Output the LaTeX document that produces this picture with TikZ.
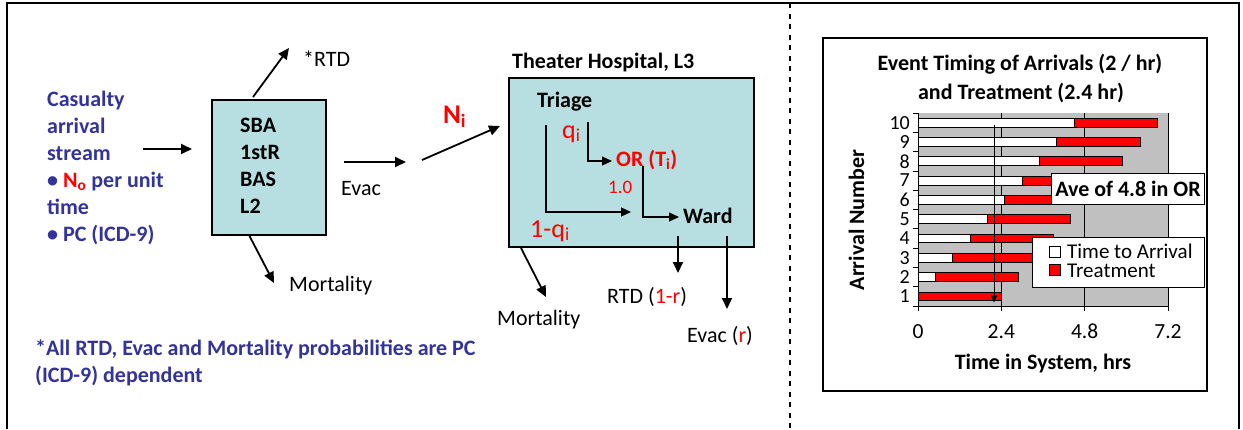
\documentclass[tikz,border=0pt]{standalone}
\usepackage{fontspec}
\setmainfont{Carlito}
\usetikzlibrary{arrows.meta}
\definecolor{navy}{RGB}{51,51,153}
\definecolor{boxblue}{RGB}{183,222,225}
\definecolor{plotgray}{RGB}{192,192,192}
\definecolor{hotred}{RGB}{255,0,0}
\tikzset{
  flow/.style={line width=1.8pt,-{Triangle[length=11pt,width=10pt]}},
  subflow/.style={line width=1.2pt,-{Triangle[length=10pt,width=9pt]}},
  stage/.style={draw,line width=1.5pt,fill=boxblue},
  lbl/.style={anchor=base west,inner sep=0pt,font=\fontsize{22}{27}\selectfont},
  blbl/.style={anchor=base west,inner sep=0pt,font=\fontsize{22}{27}\selectfont\bfseries},
  big/.style={anchor=base west,inner sep=0pt,text=hotred,font=\fontsize{26}{30}\selectfont},
  tick/.style={inner sep=0pt,font=\fontsize{21.5}{25}\selectfont},
  bar/.style={draw,line width=0.8pt},
}
\begin{document}
\begin{tikzpicture}[x=1pt,y=-1pt]
\useasboundingbox (0,0) rectangle (1243,429);
% outer frame and divider
\draw[line width=1.5pt] (7,429)--(7,3)--(1239,3)--(1239,429);
\draw[line width=1.3pt,dash pattern=on 5pt off 5.5pt] (790,3)--(790,429);

% arrival stream
\node[blbl,text=navy] (cas1) at (47,106) {Casualty};
\node[blbl,text=navy] (cas2) at (47,133) {arrival};
\node[blbl,text=navy] (cas3) at (47,160) {stream};
\node[blbl,text=navy] (cas4) at (47,187) {•\ {\color{hotred}N\textsubscript{o}} per unit};
\node[blbl,text=navy] (cas5) at (47,214) {time};
\node[blbl,text=navy] (cas6) at (47,241) {•\ PC (ICD-9)};

% first stage
\node[stage,minimum width=114pt,minimum height=135pt] (sba) at (269,167.5) {};
\foreach \t [count=\k] in {SBA,1stR,BAS,L2}
  \node[blbl] (sba\k) at (240,105+27*\k) {\t};
\node[lbl] (rtd1) at (303,66) {*RTD};
\node[lbl] (evac1) at (341,195) {Evac};
\node[lbl] (mort1) at (289,291) {Mortality};

\coordinate (inA) at (143,149);  \coordinate (inB) at (192,149);
\coordinate (rtdA) at (253,97);  \coordinate (rtdB) at (289,48);
\coordinate (mortA) at (249,235); \coordinate (mortB) at (274,283);
\coordinate (evA) at (344,162);  \coordinate (evB) at (406,162);
\coordinate (niA) at (422,160);  \coordinate (niB) at (500,126);
\draw[flow] (inA)--(inB);
\draw[flow] (rtdA)--(rtdB);
\draw[flow] (mortA)--(mortB);
\draw[flow] (evA)--(evB);
\draw[flow] (niA)--(niB);
\node[big,font=\fontsize{27}{30}\selectfont\bfseries] (ni) at (443,123) {N\textsubscript{i}};

% theater hospital
\node[stage,minimum width=245pt,minimum height=169pt] (th) at (631.5,162.5) {};
\node[blbl] (thname) at (512,68) {Theater Hospital, L3};
\node[blbl] (triage) at (537,107) {Triage};
\node[big] (q) at (562,138) {q\textsubscript{i}};
\node[blbl,text=hotred] (or) at (616,166) {OR (T\textsubscript{i})};
\node[lbl,text=hotred,font=\fontsize{19}{22}\selectfont] (one) at (608,193) {1.0};
\node[blbl] (ward) at (683,223) {Ward};
\node[big] (nq) at (530,237) {1-q\textsubscript{i}};

\coordinate (trA) at (588,122); \coordinate (trB) at (588,161); \coordinate (trC) at (612,161);
\coordinate (byA) at (546,125); \coordinate (byB) at (546,212); \coordinate (byC) at (631,212);
\coordinate (owA) at (643,166); \coordinate (owB) at (643,217); \coordinate (owC) at (679,217);
\draw[subflow] (trA)--(trB)--(trC);
\draw[subflow] (byA)--(byB)--(byC);
\draw[subflow] (owA)--(owB)--(owC);

\coordinate (wrA) at (678,236); \coordinate (wrB) at (678,273);
\coordinate (weA) at (727,236); \coordinate (weB) at (727,309);
\coordinate (tmA) at (521,248); \coordinate (tmB) at (546,297);
\draw[flow] (wrA)--(wrB);
\draw[flow] (weA)--(weB);
\draw[flow] (tmA)--(tmB);
\node[lbl] (rtd2) at (607,303) {RTD ({\color{hotred}1-r})};
\node[lbl] (evac2) at (687,342) {Evac ({\color{hotred}r})};
\node[lbl] (mort2) at (497,325) {Mortality};

% footnote
\node[blbl,text=navy] (note1) at (35,355) {*All RTD, Evac and Mortality probabilities are PC};
\node[blbl,text=navy] (note2) at (35,382) {(ICD-9) dependent};

% chart
\draw[line width=1.5pt,fill=white] (823,38) rectangle (1207,391);
\node[blbl,anchor=base] (ttl1) at (1020,70) {Event Timing of Arrivals (2 / hr)};
\node[blbl,anchor=base] (ttl2) at (1021,99) {and Treatment (2.4 hr)};
\node[blbl,anchor=base,rotate=90] (ylab) at (864,220) {Arrival Number};
\node[blbl,anchor=base] (xlab) at (1043,369) {Time in System, hrs};
\begin{scope}[shift={(918,306)},x=34.722pt,y=19.3pt]
  \fill[plotgray] (0,0) rectangle (7.2,10);
  \foreach \g in {2.4,4.8,7.2}
    \draw[line width=0.8pt] (\g,0)--(\g,10);
  \foreach \n in {1,...,10} {
    \pgfmathsetmacro\a{(\n-1)*0.5}
    \pgfmathsetmacro\b{\a+2.4}
    \draw[bar,fill=white] (0,\n-0.73) rectangle (\a,\n-0.27);
    \draw[bar,fill=hotred] (\a,\n-0.73) rectangle (\b,\n-0.27);
    \node[tick,anchor=east,font=\fontsize{20}{24}\selectfont] (yt\n) at (-0.23,\n-0.5) {\n};
  }
  \draw[line width=1pt] (0,10)--(0,0)--(7.2,0);
  \foreach \k in {0,...,10}
    \draw[line width=0.8pt] (0,\k)--(-0.15,\k);
  \foreach \g [count=\c] in {0,2.4,4.8,7.2} {
    \draw[line width=0.8pt] (\g,0)--(\g,-0.26);
    \node[tick,anchor=base] (xt\c) at (\g,-1.66) {\g};
  }
  \coordinate (markA) at (2.19,9.4);
  \coordinate (markB) at (2.19,0.18);
  \draw[line width=1pt,-{Triangle[length=7pt,width=6pt]}] (markA)--(markB);
\end{scope}
\node[draw,fill=white,line width=1pt,minimum width=148pt,minimum height=31pt,
  font=\fontsize{22}{27}\selectfont\bfseries] (ave) at (1128,188.5) {Ave of 4.8 in OR};
\node[draw,fill=white,line width=1pt,minimum width=172pt,minimum height=50pt] (leg) at (1118,262) {};
\node[draw,fill=white,line width=0.8pt,minimum size=11pt,inner sep=0pt] (keyA) at (1055,251.5) {};
\node[draw,fill=hotred,line width=0.8pt,minimum size=11pt,inner sep=0pt] (keyB) at (1055,269.5) {};
\node[tick,anchor=base west,font=\fontsize{21}{25}\selectfont] (legA) at (1067,258) {Time to Arrival};
\node[tick,anchor=base west,font=\fontsize{21}{25}\selectfont] (legB) at (1067,277) {Treatment};
\end{tikzpicture}
\end{document}
